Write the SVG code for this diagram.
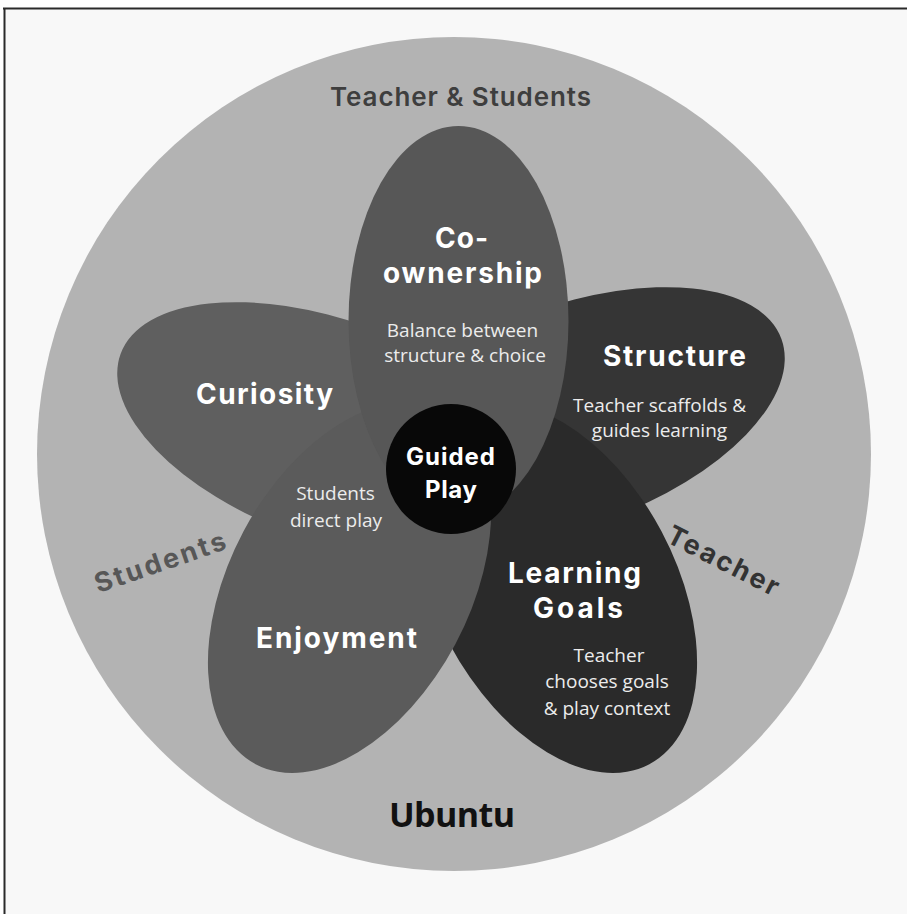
<svg xmlns="http://www.w3.org/2000/svg" width="907" height="914" viewBox="0 0 907 914">
<style>
.h{font-family:Inter,"Noto Sans",sans-serif;font-weight:700;font-size:28px;fill:#fff;text-anchor:middle}
.g{font-family:Inter,"Noto Sans",sans-serif;font-weight:700;font-size:24px;fill:#fff;text-anchor:middle}
.b{font-family:"Open Sans","Noto Sans",sans-serif;font-size:19px;fill:#ececec;text-anchor:middle}
.r{font-family:Inter,"Noto Sans",sans-serif;font-weight:700;font-size:27px;text-anchor:middle}
</style>
<rect width="907" height="914" fill="#fff"/>
<rect x="4" y="8" width="903" height="906" fill="#f8f8f8"/>
<path d="M3 8.5H907M4.5 8V914" stroke="#2a2a2a" stroke-width="2" fill="none"/>

<g id="ubuntu">
<circle cx="454" cy="454" r="417" fill="#b3b3b3"/>
</g>

<g id="curiosity"><ellipse cx="332" cy="431" rx="110" ry="225" transform="rotate(-70 332 431)" fill="#5f5f5f"/></g>
<g id="structure"><ellipse cx="570" cy="416" rx="110" ry="225" transform="rotate(70 570 416)" fill="#353535"/></g>
<g id="learning-goals"><ellipse cx="555.5" cy="587.6" rx="120" ry="200" transform="rotate(152 555.5 587.6)" fill="#2a2a2a"/></g>
<g id="enjoyment"><ellipse cx="349.5" cy="587.6" rx="120" ry="200" transform="rotate(-152 349.5 587.6)" fill="#5b5b5b"/></g>
<g id="co-ownership"><ellipse cx="458.5" cy="321" rx="110" ry="195" fill="#575757"/></g>
<g id="guided-play"><circle cx="451" cy="469" r="65" fill="#080808"/>
<text class="g" x="450.5" y="465" textLength="89">Guided</text>
<text class="g" x="451" y="498" textLength="52">Play</text>
</g>

<g id="labels-ubuntu">
<text x="460.5" y="106" font-family="Inter,'Noto Sans',sans-serif" font-weight="600" font-size="26" fill="#3e3e3e" text-anchor="middle" textLength="261">Teacher &amp; Students</text>
<text class="r" x="163" y="571" fill="#575757" textLength="137" transform="rotate(-19 163 571)">Students</text>
<text class="r" x="719" y="569" fill="#333" textLength="122" transform="rotate(27 719 569)">Teacher</text>
<text x="452" y="827" font-family="'Open Sans','Noto Sans',sans-serif" font-weight="700" font-size="34" fill="#111" text-anchor="middle" textLength="126">Ubuntu</text>
</g>
<g id="labels-co-ownership">
<text class="h" x="461.5" y="248" textLength="53">Co-</text>
<text class="h" x="462.5" y="283" textLength="159">ownership</text>
<text class="b" x="462.5" y="337">Balance between</text>
<text class="b" x="465" y="362">structure &amp; choice</text>
</g>
<g id="labels-curiosity">
<text class="h" x="264.5" y="404" textLength="137">Curiosity</text>
<text class="b" x="335.5" y="500">Students</text>
<text class="b" x="336" y="527">direct play</text>
</g>
<g id="labels-structure">
<text class="h" x="674.5" y="366" textLength="143">Structure</text>
<text class="b" x="659.5" y="412">Teacher scaffolds &amp;</text>
<text class="b" x="659.5" y="437">guides learning</text>
</g>
<g id="labels-learning-goals">
<text class="h" x="574.5" y="583" textLength="133">Learning</text>
<text class="h" x="578" y="618" textLength="90">Goals</text>
<text class="b" x="609" y="662">Teacher</text>
<text class="b" x="607" y="688">chooses goals</text>
<text class="b" x="607" y="715">&amp; play context</text>
</g>
<g id="labels-enjoyment">
<text class="h" x="336.5" y="648" textLength="161">Enjoyment</text>
</g>
</svg>
